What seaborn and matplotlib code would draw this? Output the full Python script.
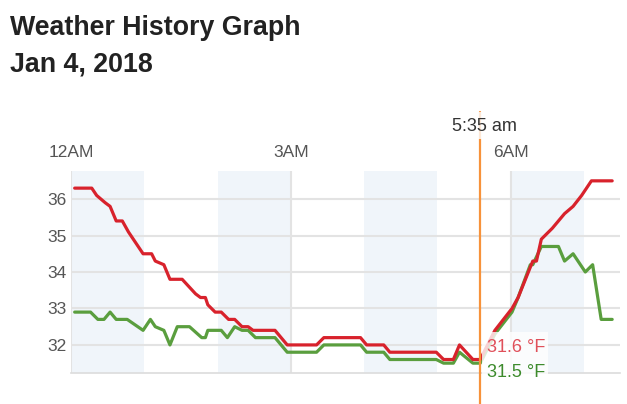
import matplotlib
matplotlib.use("Agg")
import matplotlib.pyplot as plt
import seaborn as sns
import pandas as pd
from matplotlib.patches import Rectangle

# --- données (minutes depuis minuit) ---
temp_minutes = [3, 17, 21, 28, 32, 37, 42, 47, 59, 66, 69, 76, 81, 91, 102,
                106, 110, 112, 118, 123, 129, 134, 140, 145, 149, 167, 177, 201, 207, 237,
                242, 256, 261, 299, 305, 313, 318, 329, 335, 347, 361, 366, 378, 381, 385,
                394, 404, 411, 418, 426, 443]
temp_values = [36.3, 36.3, 36.1, 35.9, 35.8, 35.4, 35.4, 35.1, 34.5, 34.5, 34.3, 34.2, 33.8, 33.8, 33.4,
               33.3, 33.3, 33.1, 32.9, 32.9, 32.7, 32.7, 32.5, 32.5, 32.4, 32.4, 32.0, 32.0, 32.2, 32.2,
               32.0, 32.0, 31.8, 31.8, 31.6, 31.6, 32.0, 31.6, 31.6, 32.4, 33.0, 33.3, 34.3, 34.3, 34.9,
               35.2, 35.6, 35.8, 36.1, 36.5, 36.5]

dew_minutes = [3, 16, 22, 27, 32, 37, 46, 59, 65, 69, 76, 81, 87, 97, 107,
               110, 112, 123, 128, 134, 140, 145, 151, 167, 177, 201, 207, 237, 242, 256,
               261, 299, 305, 313, 318, 329, 335, 347, 361, 366, 376, 378, 385, 399, 404,
               411, 421, 427, 434, 443]
dew_values = [32.9, 32.9, 32.7, 32.7, 32.9, 32.7, 32.7, 32.4, 32.7, 32.5, 32.4, 32.0, 32.5, 32.5, 32.2,
              32.2, 32.4, 32.4, 32.2, 32.5, 32.4, 32.4, 32.2, 32.2, 31.8, 31.8, 32.0, 32.0, 31.8, 31.8,
              31.6, 31.6, 31.5, 31.5, 31.8, 31.5, 31.5, 32.3, 32.9, 33.3, 34.2, 34.2, 34.7, 34.7, 34.3,
              34.5, 34.0, 34.2, 32.7, 32.7]

tick_hours = [0, 3, 6]
tick_labels = ["12AM", "3AM", "6AM"]
y_ticks = [32, 33, 34, 35, 36]
band_starts = [0, 2, 4, 6]
cursor_minute = 5 * 60 + 35
cursor_label = "5:35 am"
cursor_temp = "31.6 °F"
cursor_dew = "31.5 °F"

RED = "#d8222c"
GREEN = "#5a9e3e"
ORANGE = "#f7923a"

sns.set_style("white")
plt.rcParams["font.family"] = ["Liberation Sans", "DejaVu Sans"]

W, H = 627, 404
fig = plt.figure(figsize=(W / 100, H / 100), dpi=100)
ax = fig.add_axes([71 / W, 31 / H, (620 - 71) / W, 202 / H])

for b in band_starts:
    ax.axvspan(b, b + 1, color="#f0f5fa", zorder=0, lw=0)

df_t = pd.DataFrame({"heure": [m / 60 for m in temp_minutes], "val": temp_values})
df_d = pd.DataFrame({"heure": [m / 60 for m in dew_minutes], "val": dew_values})
sns.lineplot(data=df_d, x="heure", y="val", ax=ax, color=GREEN, lw=2.3,
             estimator=None, sort=False, zorder=3)
sns.lineplot(data=df_t, x="heure", y="val", ax=ax, color=RED, lw=2.3,
             estimator=None, sort=False, zorder=4)

ax.set_xlim(0, 7.49)
ax.set_ylim(31.23, 36.77)
ax.set_xticks(tick_hours)
ax.set_xticklabels(tick_labels)
ax.set_yticks(y_ticks)
ax.xaxis.tick_top()
ax.tick_params(axis="x", length=0, pad=8, labelsize=12.5, labelcolor="#555555")
ax.tick_params(axis="y", length=0, pad=3, labelsize=12.5, labelcolor="#555555")
ax.grid(True, color="#e3e3e3", lw=1.5)
ax.set_axisbelow(True)
ax.set_xlabel("")
ax.set_ylabel("")
for s in ["top", "right", "left"]:
    ax.spines[s].set_visible(False)
ax.spines["bottom"].set_color("#dcdcdc")
ax.spines["bottom"].set_linewidth(1.2)

# curseur
ax.axvline(cursor_minute / 60, ymin=-0.16, ymax=1.29, color=ORANGE, lw=1.6,
           clip_on=False, zorder=5)

fig.patches.append(Rectangle((447 / W, 1 - 139 / H), 73 / W, 27 / H, transform=fig.transFigure,
                             facecolor="white", alpha=0.8, edgecolor="none", zorder=6))
fig.text(484 / W, 1 - 131 / H, cursor_label, ha="center", va="baseline",
         fontsize=13, color="#333333", zorder=7)

fig.patches.append(Rectangle((482 / W, 1 - 386 / H), 66 / W, 54 / H, transform=fig.transFigure,
                             facecolor="white", alpha=0.8, edgecolor="none", zorder=6))
fig.text(487 / W, 1 - 352 / H, cursor_temp, ha="left", va="baseline",
         fontsize=13, color="#e0505a", zorder=7)
fig.text(487 / W, 1 - 377 / H, cursor_dew, ha="left", va="baseline",
         fontsize=13, color="#3d8b2c", zorder=7)

# titre
fig.text(10 / W, 1 - 35 / H, "Weather History Graph", ha="left", va="baseline",
         fontsize=19.3, fontweight="bold", color="#222222")
fig.text(10 / W, 1 - 72 / H, "Jan 4, 2018", ha="left", va="baseline",
         fontsize=19.3, fontweight="bold", color="#222222")

fig.savefig("out.png", dpi=100)
